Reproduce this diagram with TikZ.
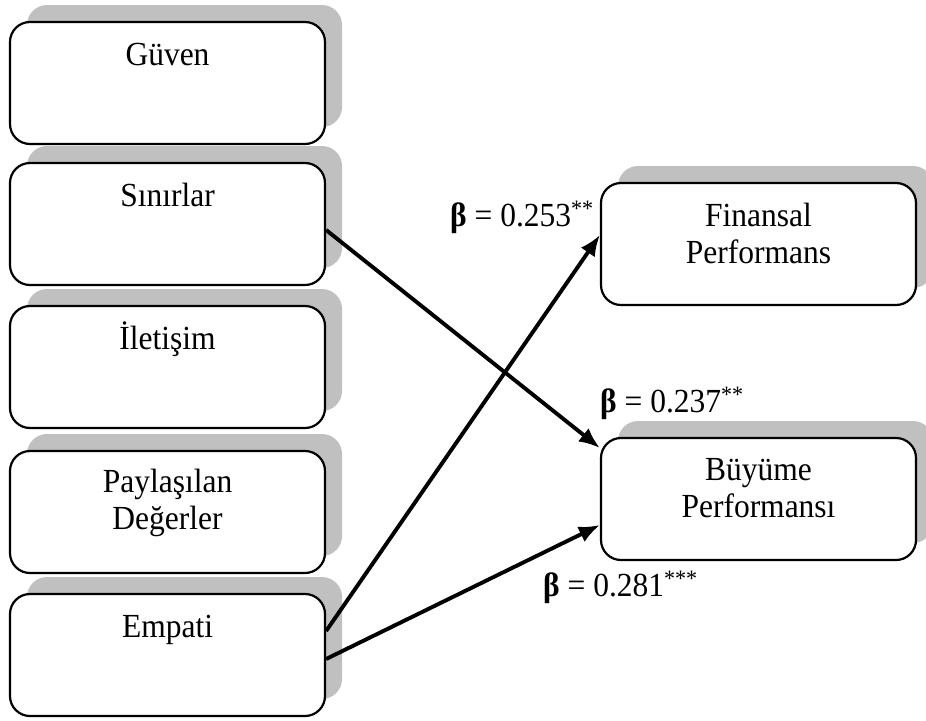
\documentclass[tikz,border=0pt]{standalone}
\usepackage{fontspec}
\usepackage{graphicx}
\setmainfont{Liberation Serif}
\usetikzlibrary{arrows.meta,shadows}
\definecolor{shadowgray}{RGB}{192,192,192}
\newcommand{\bigtext}{\fontsize{31.5}{34}\selectfont}
\newcommand{\tallen}[1]{\scalebox{1}[1.07]{#1}}
\newcommand{\boxlines}[1]{\tallen{\parbox[t]{300pt}{\centering #1}}}
\begin{document}
\begin{tikzpicture}[x=1pt,y=-1pt,
  varbox/.style={draw=black, line width=2.2pt, rounded corners=20pt, fill=white,
    minimum width=315pt, minimum height=122pt, inner sep=0pt,
    general shadow={fill=shadowgray, draw=none, shadow xshift=17pt, shadow yshift=17pt}},
  boxtext/.style={anchor=base, inner sep=0pt, font=\bigtext},
  coef/.style={anchor=base west, inner sep=0pt, font=\bigtext},
  path/.style={line width=3.9pt, -{Latex[length=21pt,width=17pt]}}
]
\useasboundingbox (0,0) rectangle (926,720);

% independent variables (left column)
\node[varbox] (guven) at (167.5,83) {};
\node[varbox] (sinir) at (167.5,224) {};
\node[varbox] (iletisim) at (167.5,367) {};
\node[varbox] (degerler) at (167.5,512) {};
\node[varbox] (empati) at (167.5,655) {};

% outcome variables (right column)
\node[varbox] (finans) at (758.5,244) {};
\node[varbox] (buyume) at (758.5,499) {};

% box titles
\node[boxtext] (tguven) at ([yshift=-45pt]guven.north) {\boxlines{Güven}};
\node[boxtext] (tsinir) at ([yshift=-45pt]sinir.north) {\boxlines{Sınırlar}};
\node[boxtext] (tiletisim) at ([yshift=-45pt]iletisim.north) {\boxlines{İletişim}};
\node[boxtext] (tdegerler) at ([yshift=-43pt]degerler.north) {\boxlines{Paylaşılan\\Değerler}};
\node[boxtext] (tempati) at ([yshift=-45pt]empati.north) {\boxlines{Empati}};
\node[boxtext] (tfinans) at ([yshift=-45pt]finans.north) {\boxlines{Finansal\\Performans}};
\node[boxtext] (tbuyume) at ([yshift=-44pt]buyume.north) {\boxlines{Büyüme\\Performansı}};

% significant paths
\draw[path] ([yshift=-6pt]sinir.east) -- ([yshift=51pt]buyume.west);
\draw[path] ([yshift=24pt]empati.east) -- ([yshift=9pt]finans.west);
\draw[path] ([yshift=-4pt]empati.east) -- ([yshift=-26pt]buyume.west);

% path coefficients
\node[coef] (c1) at (450,226) {\tallen{\textbf{β} = 0.253\textsuperscript{**}}};
\node[coef] (c2) at (600,412) {\tallen{\textbf{β} = 0.237\textsuperscript{**}}};
\node[coef] (c3) at (543,596) {\tallen{\textbf{β} = 0.281\textsuperscript{***}}};
\end{tikzpicture}
\end{document}
